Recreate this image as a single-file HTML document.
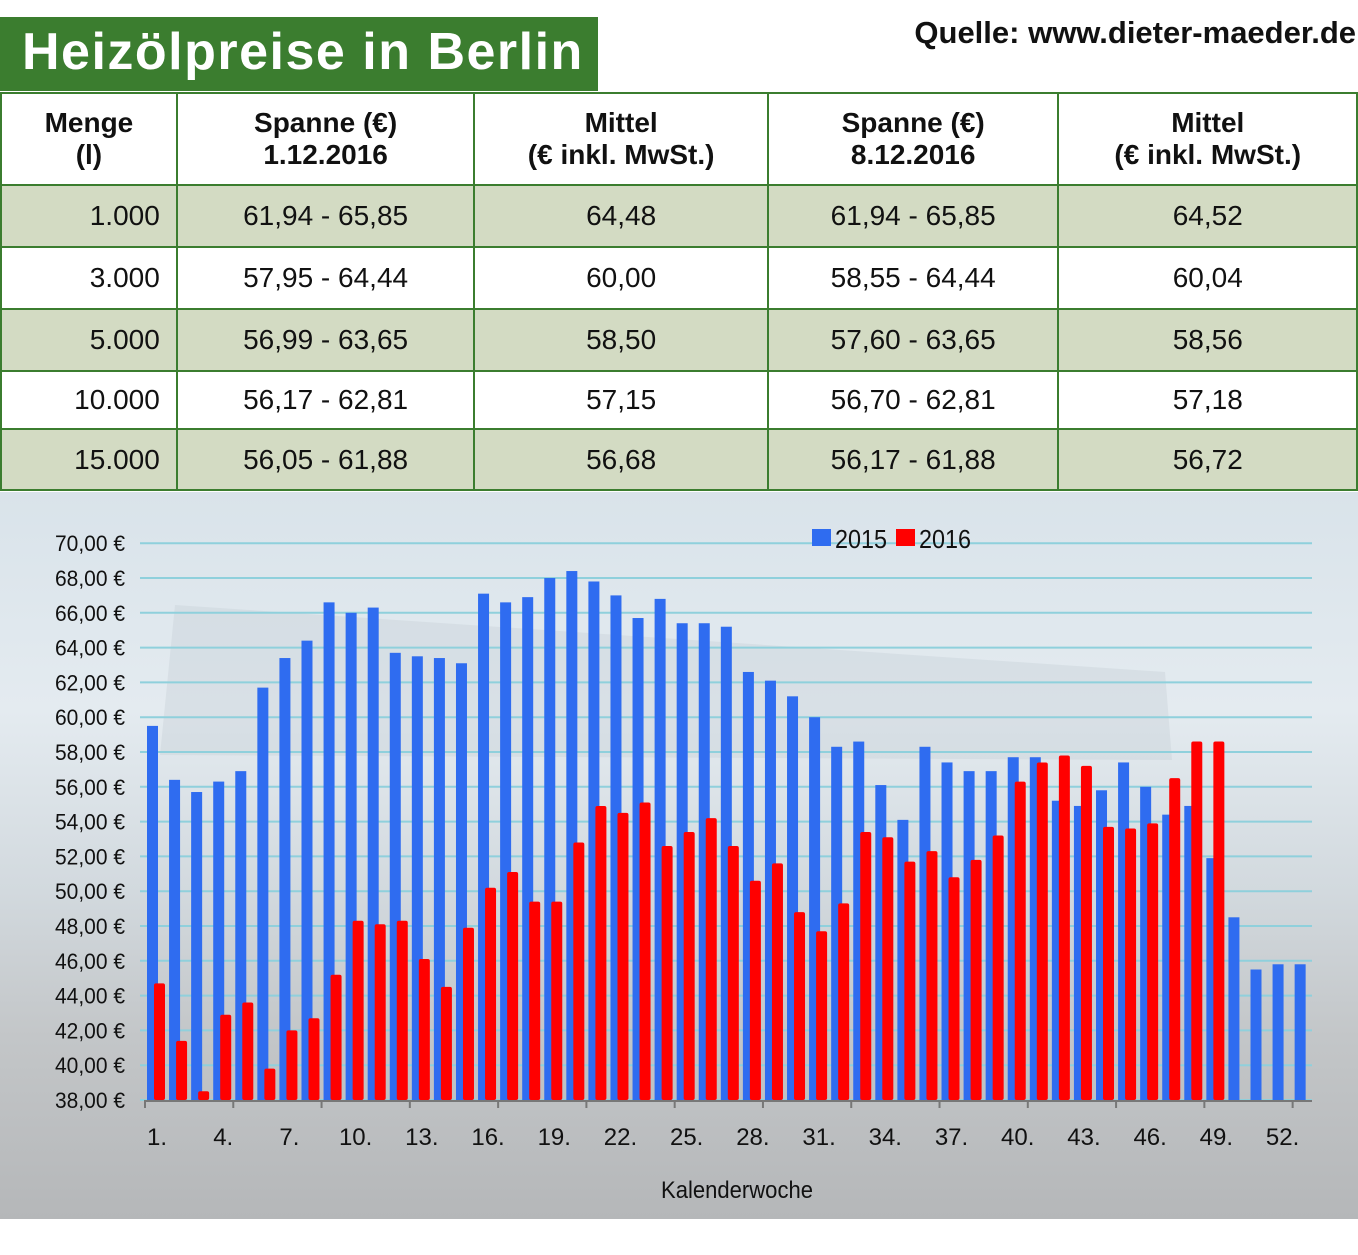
<!DOCTYPE html>
<html><head><meta charset="utf-8">
<style>
body{margin:0;width:1358px;height:1255px;background:#fff;position:relative;overflow:hidden;font-family:"Liberation Sans",sans-serif}
#title{position:absolute;left:0;top:17px;width:598px;height:74px;background:#3b7d2f;color:#fff;font-weight:bold;font-size:52px;line-height:70px;padding-left:22px;box-sizing:border-box;letter-spacing:1.5px;white-space:nowrap}
#src{position:absolute;right:2px;top:15px;font-weight:bold;font-size:31px;color:#111}
table{position:absolute;left:0;top:92px;border-collapse:collapse;width:1358px}
td{border:2px solid #3b7d2f;font-size:28px;color:#111;text-align:center;padding:0}
tr.h td{font-weight:bold;height:90px;line-height:32px}
tr.s td{background:#d3dbc3}
td.r{text-align:right;padding-right:16px}
</style></head><body>
<div id="title">Heizölpreise in Berlin</div>
<div id="src">Quelle: www.dieter-maeder.de</div>
<table>
<colgroup><col style="width:176px"><col style="width:298px"><col style="width:294px"><col style="width:291px"><col style="width:299px"></colgroup>
<tr class="h"><td>Menge<br>(l)</td><td>Spanne (€)<br>1.12.2016</td><td>Mittel<br>(€ inkl. MwSt.)</td><td>Spanne (€)<br>8.12.2016</td><td>Mittel<br>(€ inkl. MwSt.)</td></tr>
<tr class="s" style="height:62px"><td class="r">1.000</td><td>61,94 - 65,85</td><td>64,48</td><td>61,94 - 65,85</td><td>64,52</td></tr>
<tr style="height:62px"><td class="r">3.000</td><td>57,95 - 64,44</td><td>60,00</td><td>58,55 - 64,44</td><td>60,04</td></tr>
<tr class="s" style="height:62px"><td class="r">5.000</td><td>56,99 - 63,65</td><td>58,50</td><td>57,60 - 63,65</td><td>58,56</td></tr>
<tr style="height:58px"><td class="r">10.000</td><td>56,17 - 62,81</td><td>57,15</td><td>56,70 - 62,81</td><td>57,18</td></tr>
<tr class="s" style="height:61px"><td class="r">15.000</td><td>56,05 - 61,88</td><td>56,68</td><td>56,17 - 61,88</td><td>56,72</td></tr>
</table>
<svg id="c" style="position:absolute;left:0;top:492px" width="1358" height="727" viewBox="0 492 1358 727">
<defs><linearGradient id="bg" x1="0" y1="0" x2="0" y2="1">
<stop offset="0" stop-color="#d9e3ea"/><stop offset="0.3" stop-color="#e4ebf0"/><stop offset="0.55" stop-color="#d2d9de"/><stop offset="0.75" stop-color="#c3c6c8"/><stop offset="1" stop-color="#b5b7b9"/></linearGradient></defs>
<rect x="0" y="492" width="1358" height="727" fill="url(#bg)"/>
<polygon points="175,605 1165,672 1172,760 160,755" fill="#c9d3da" opacity="0.45"/>
<g id="g"></g>
</svg>
<script>
var g=document.getElementById('g'),s='';
function y(v){return 1100-(v-38)*17.4;}
for(var v=38;v<=70;v+=2){var yy=y(v);s+='<line x1="140" x2="1312" y1="'+yy+'" y2="'+yy+'" stroke="#8fd0dc" stroke-width="2"/>';
s+='<text x="125" y="'+(yy+8)+'" font-size="22" text-anchor="end" fill="#111" textLength="70" lengthAdjust="spacingAndGlyphs">'+v+',00 €</text>';}
var b=[59.5,56.4,55.7,56.3,56.9,61.7,63.4,64.4,66.6,66.0,66.3,63.7,63.5,63.4,63.1,67.1,66.6,66.9,68.0,68.4,67.8,67.0,65.7,66.8,65.4,65.4,65.2,62.6,62.1,61.2,60.0,58.3,58.6,56.1,54.1,58.3,57.4,56.9,56.9,57.7,57.7,55.2,54.9,55.8,57.4,56.0,54.4,54.9,51.9,48.5,45.5,45.8,45.8];
var r=[44.7,41.4,38.5,42.9,43.6,39.8,42.0,42.7,45.2,48.3,48.1,48.3,46.1,44.5,47.9,50.2,51.1,49.4,49.4,52.8,54.9,54.5,55.1,52.6,53.4,54.2,52.6,50.6,51.6,48.8,47.7,49.3,53.4,53.1,51.7,52.3,50.8,51.8,53.2,56.3,57.4,57.8,57.2,53.7,53.6,53.9,56.5,58.6,58.6];
var sp=22.07;
for(var i=0;i<b.length;i++){var x=147+i*sp;s+='<rect x="'+x+'" y="'+y(b[i])+'" width="11" height="'+(1100-y(b[i]))+'" fill="#2f6cf0"/>';}
for(var i=0;i<r.length;i++){var x=154+i*sp;s+='<rect x="'+x+'" y="'+y(r[i])+'" width="11" height="'+(1100-y(r[i]))+'" rx="2" fill="#ff0000"/>';}
s+='<line x1="145" x2="1312" y1="1101" y2="1101" stroke="#777" stroke-width="2"/>';
for(var k=0;k<=13;k++){var x=145+k*4*sp;s+='<line x1="'+x+'" x2="'+x+'" y1="1100" y2="1108" stroke="#777" stroke-width="2"/>';}
for(var n=1;n<=52;n+=3){var x=157+(n-1)*sp;s+='<text x="'+x+'" y="1145" font-size="24" text-anchor="middle" fill="#111">'+n+'.</text>';}
s+='<text x="737" y="1198" font-size="24" text-anchor="middle" fill="#111" textLength="152" lengthAdjust="spacingAndGlyphs">Kalenderwoche</text>';
s+='<rect x="812" y="529" width="19" height="17" fill="#2f6cf0"/><text x="835" y="548" font-size="26" fill="#111" textLength="52" lengthAdjust="spacingAndGlyphs">2015</text>';
s+='<rect x="896" y="529" width="19" height="17" fill="#ff0000"/><text x="919" y="548" font-size="26" fill="#111" textLength="52" lengthAdjust="spacingAndGlyphs">2016</text>';
g.innerHTML=s;
</script>
</body></html>
